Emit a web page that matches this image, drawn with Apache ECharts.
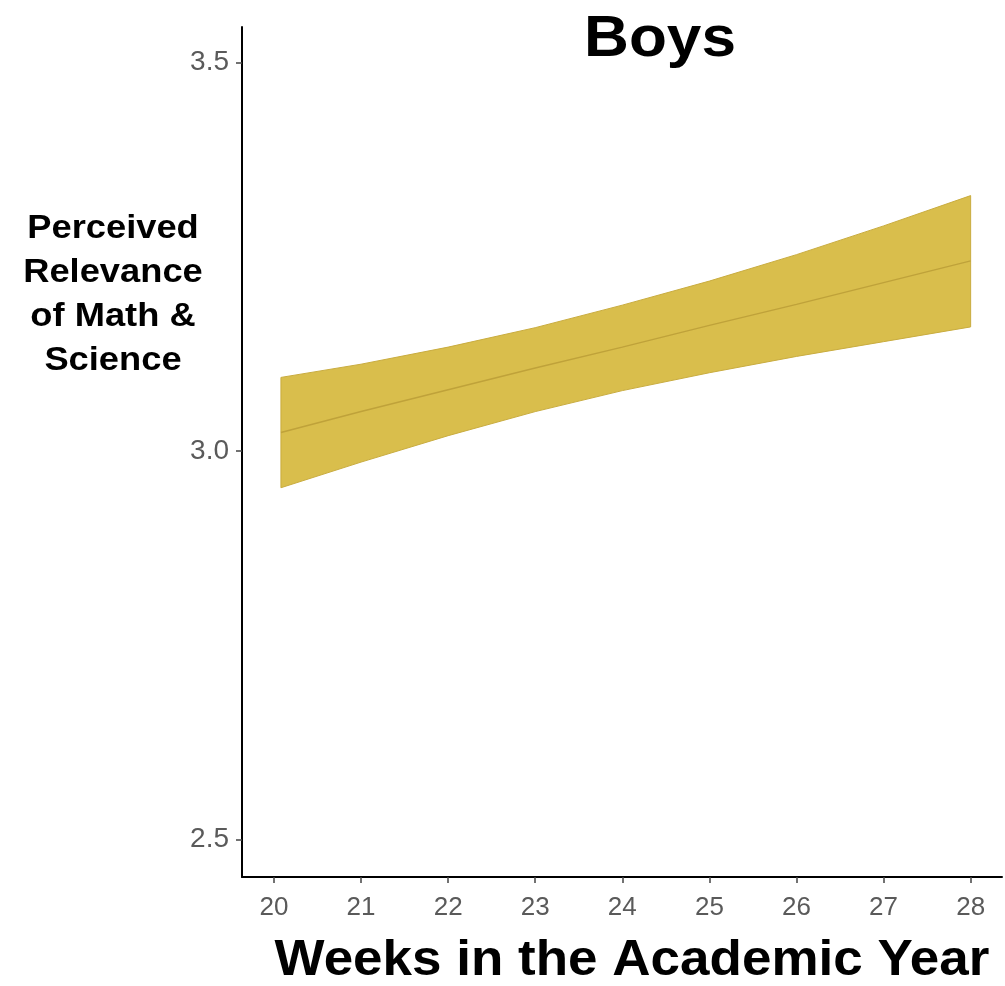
<!DOCTYPE html>
<html>
<head>
<meta charset="utf-8">
<script src="https://cdn.jsdelivr.net/npm/echarts@6/dist/echarts.min.js"></script>
<style>
  html, body { margin: 0; padding: 0; background: #fff; }
  #chart { width: 1005px; height: 986px; }
</style>
</head>
<body>
<div id="chart"></div>
<script>
// weeks and fitted values
var weeks = [20.08, 21, 22, 23, 24, 25, 26, 27, 28];
var fit   = [3.024, 3.051, 3.079, 3.107, 3.134, 3.162, 3.189, 3.217, 3.245];
var upper = [3.095, 3.112, 3.134, 3.159, 3.188, 3.219, 3.253, 3.290, 3.329];
var lower = [2.953, 2.986, 3.020, 3.051, 3.078, 3.101, 3.122, 3.141, 3.160];

var xTicks = [20, 21, 22, 23, 24, 25, 26, 27, 28];
var yTicks = [2.5, 3.0, 3.5];

var chart = echarts.init(document.getElementById('chart'));

var fitData = weeks.map(function (w, i) { return [w, fit[i]]; });

var option = {
  backgroundColor: '#ffffff',
  animation: false,
  grid: { left: 242, right: 3, top: 27, bottom: 109 },
  xAxis: {
    type: 'value',
    min: 19.633,
    max: 28.36,
    splitLine: { show: false },
    axisLine: { show: true, onZero: false, lineStyle: { color: '#000', width: 2 } },
    axisTick: { show: true, length: 6, lineStyle: { color: '#444', width: 1.5 }, customValues: xTicks },
    axisLabel: {
      customValues: xTicks, color: '#5a5a5a', fontSize: 26, margin: 18,
      fontFamily: 'Liberation Sans, Arial'
    }
  },
  yAxis: {
    type: 'value',
    min: 2.452,
    max: 3.546,
    splitLine: { show: false },
    axisLine: { show: true, onZero: false, lineStyle: { color: '#000', width: 2 } },
    axisTick: { show: true, length: 6, lineStyle: { color: '#444', width: 1.5 }, customValues: yTicks },
    axisLabel: {
      customValues: yTicks, color: '#5a5a5a', fontSize: 28, margin: 13,
      fontFamily: 'Liberation Sans, Arial',
      formatter: function (v) { return v.toFixed(1); }
    }
  },
  graphic: [
    {
      type: 'text', x: 660, y: 40, scaleX: 1.09,
      style: { text: 'Boys', textAlign: 'center', textVerticalAlign: 'middle',
        font: 'bold 57px Liberation Sans, Arial', fill: '#000' }
    },
    {
      type: 'text', x: 113, y: 295, scaleX: 1.1,
      style: { text: 'Perceived\nRelevance\nof Math &\nScience',
        textAlign: 'center', textVerticalAlign: 'middle', lineHeight: 44,
        font: 'bold 33px Liberation Sans, Arial', fill: '#000' }
    },
    {
      type: 'text', x: 632, y: 961, scaleX: 1.06,
      style: { text: 'Weeks in the Academic Year',
        textAlign: 'center', textVerticalAlign: 'middle',
        font: 'bold 50px Liberation Sans, Arial', fill: '#000' }
    }
  ],
  series: [
    {
      type: 'custom',
      data: weeks,
      silent: true,
      renderItem: function (params, api) {
        if (params.dataIndex !== 0) return;
        var pts = [];
        for (var i = 0; i < weeks.length; i++) pts.push(api.coord([weeks[i], upper[i]]));
        for (var j = weeks.length - 1; j >= 0; j--) pts.push(api.coord([weeks[j], lower[j]]));
        return {
          type: 'polygon',
          shape: { points: pts },
          style: { fill: '#D9BE4C', stroke: '#C9AC3F', lineWidth: 1 }
        };
      }
    },
    {
      type: 'line',
      data: fitData,
      showSymbol: false,
      silent: true,
      lineStyle: { color: '#BFA23A', width: 1.5 }
    }
  ]
};

chart.setOption(option);
</script>
</body>
</html>
